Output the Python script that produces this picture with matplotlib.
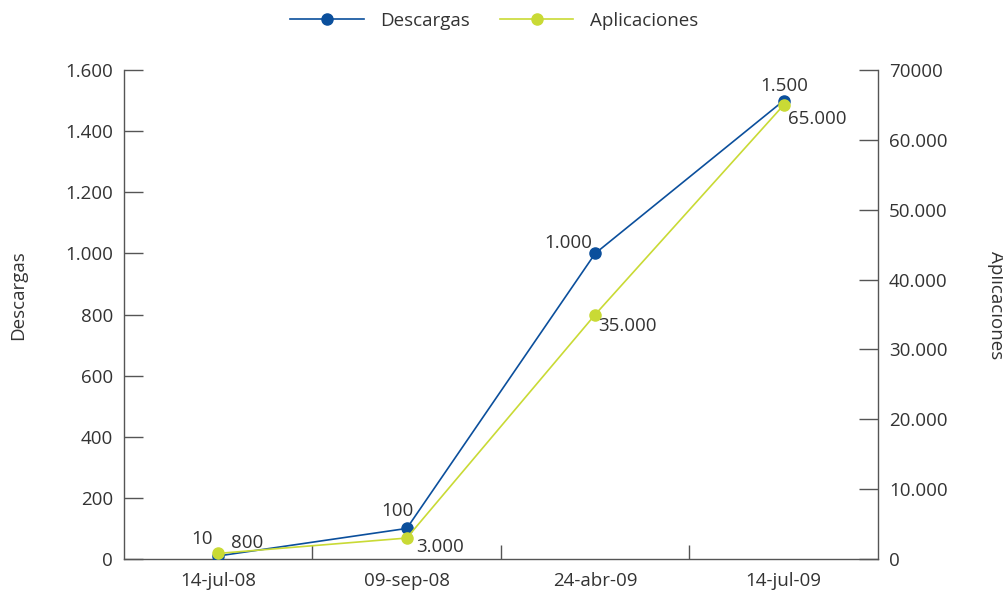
import matplotlib
matplotlib.use("Agg")
import matplotlib.pyplot as plt
from matplotlib.ticker import FuncFormatter, FixedLocator

plt.rcParams['font.family'] = ['Open Sans', 'DejaVu Sans']

fechas = ["14-jul-08", "09-sep-08", "24-abr-09", "14-jul-09"]
descargas = [10, 100, 1000, 1500]
aplicaciones = [800, 3000, 35000, 65000]
ticks_izq = [0, 200, 400, 600, 800, 1000, 1200, 1400, 1600]
ticks_der = [0, 10000, 20000, 30000, 40000, 50000, 60000, 70000]

AZUL = "#0b4f9c"
LIMA = "#c9da35"
TEXTO = "#333333"
EJE = "#555555"
FS = 13.5

def miles(v):
    return f"{int(v):,}".replace(",", ".")

fig = plt.figure(figsize=(10.04, 5.91), dpi=100)
W, H = 1004, 591
ax = fig.add_axes([124 / W, (H - 559) / H, (878 - 124) / W, (559 - 70) / H])
ax2 = ax.twinx()

x = list(range(len(fechas)))
l1, = ax.plot(x, descargas, color=AZUL, lw=1.2, marker="o", ms=8, zorder=3,
              label="Descargas")
l2, = ax2.plot(x, aplicaciones, color=LIMA, lw=1.2, marker="o", ms=8, zorder=3,
               label="Aplicaciones")

ax.set_xlim(-0.5, len(fechas) - 0.5)
ax.set_ylim(ticks_izq[0], ticks_izq[-1])
ax2.set_ylim(ticks_der[0], ticks_der[-1])

ax.set_xticks(x)
ax.set_xticklabels(fechas)
ax.xaxis.set_minor_locator(FixedLocator([i + 0.5 for i in x[:-1]]))
ax.tick_params(axis="x", which="major", length=0, pad=9, labelsize=FS, labelcolor=TEXTO)
ax.tick_params(axis="x", which="minor", direction="in", length=10, width=1, color=EJE)

ax.set_yticks(ticks_izq)
ax.yaxis.set_major_formatter(FuncFormatter(lambda v, p: miles(v)))
ax.tick_params(axis="y", direction="in", length=13.7, width=1, color=EJE, pad=8,
               labelsize=FS, labelcolor=TEXTO)

ax2.set_yticks(ticks_der)
ax2.yaxis.set_major_formatter(
    FuncFormatter(lambda v, p: "70000" if v == 70000 else miles(v)))
ax2.tick_params(axis="y", direction="in", length=13.7, width=1, color=EJE, pad=8,
                labelsize=FS, labelcolor=TEXTO)

for a in (ax, ax2):
    a.spines["top"].set_visible(False)
    for s in ("left", "right", "bottom"):
        a.spines[s].set_color(EJE)
        a.spines[s].set_linewidth(1)
ax.spines["right"].set_visible(False)
ax2.spines["left"].set_visible(False)
ax2.spines["bottom"].set_visible(False)

fig.text(18 / W, 1 - 295 / H, "Descargas", rotation=90, ha="center", va="center",
         fontsize=FS, color=TEXTO)
fig.text(996 / W, 1 - 305 / H, "Aplicaciones", rotation=-90, ha="center", va="center",
         fontsize=FS, color=TEXTO)

# value labels
off_d = [(-4, 6, "right", "bottom"), (5, 6, "right", "bottom"),
         (-2, 1, "right", "bottom"), (0, 4, "center", "bottom")]
off_a = [(9, 1, "left", "bottom"), (7, 0, "left", "top"),
         (2, -2, "left", "top"), (3, -4, "left", "top")]
for xi, v, (dx, dy, ha, va) in zip(x, descargas, off_d):
    ax.annotate(miles(v), (xi, v), xytext=(dx, dy), textcoords="offset points",
                ha=ha, va=va, fontsize=FS, color=TEXTO, zorder=5)
for xi, v, (dx, dy, ha, va) in zip(x, aplicaciones, off_a):
    ax2.annotate(miles(v), (xi, v), xytext=(dx, dy), textcoords="offset points",
                 ha=ha, va=va, fontsize=FS, color=TEXTO, zorder=5)

fig.legend(handles=[l1, l2], loc="center", bbox_to_anchor=(494.5 / W, 1 - 21 / H),
           ncol=2, frameon=False, fontsize=FS, handlelength=3.9,
           columnspacing=1.6, handletextpad=0.9, labelcolor=TEXTO)

fig.savefig("out.png", dpi=100)
